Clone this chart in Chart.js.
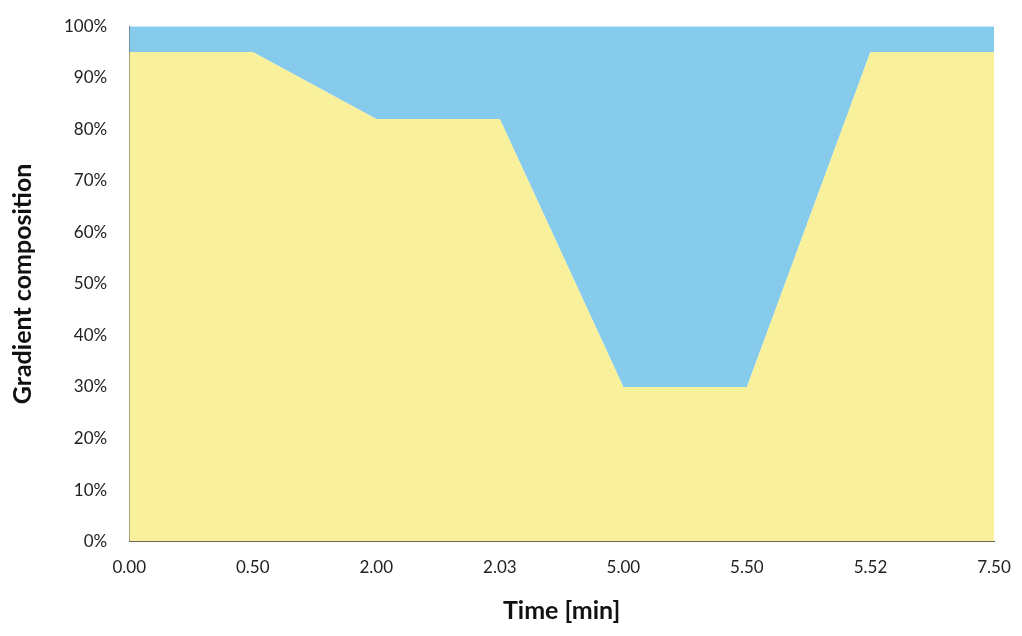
<!DOCTYPE html>
<html><head><meta charset="utf-8">
<script src="https://cdn.jsdelivr.net/npm/chart.js@4/dist/chart.umd.min.js"></script>
<style>html,body{margin:0;padding:0;background:#fff}#w{width:1022px;height:636px}</style>
</head><body><div id="w"><canvas id="c"></canvas></div>
<script>
const times = ["0.00","0.50","2.00","2.03","5.00","5.50","5.52","7.50"];
const solventA = [95,95,82,82,30,30,95,95];
const solventB = [5,5,18,18,70,70,5,5];
const yTicks = [0,10,20,30,40,50,60,70,80,90,100];
Chart.defaults.font.family = "Lato, 'Noto Sans', sans-serif";
new Chart(document.getElementById('c'), {
  type: 'line',
  data: { labels: times, datasets: [
    {data: solventA, backgroundColor:'#F8F09A', borderWidth:0, pointRadius:0, fill:'origin', tension:0},
    {data: solventB, backgroundColor:'#86CBEB', borderWidth:0, pointRadius:0, fill:'-1', tension:0}
  ]},
  options: {
    responsive:true, maintainAspectRatio:false, animation:false,
    layout:{padding:{top:6,right:28,left:4,bottom:6}},
    plugins:{legend:{display:false}, tooltip:{enabled:false}},
    scales:{
      x:{offset:false, grid:{display:false, drawTicks:true, tickLength:6}, border:{display:true,color:'#555'},
         ticks:{color:'#222', font:{size:17}, padding:10, maxRotation:0},
         title:{display:true, text:'Time [min]', color:'#111', font:{size:25, weight:'bold'}, padding:{top:8}}},
      y:{stacked:true, min:0, max:100, afterBuildTicks:a=>{a.ticks=yTicks.map(v=>({value:v}));},
         grid:{display:false, tickLength:6}, border:{display:true,color:'#555'},
         ticks:{color:'#222', font:{size:17}, padding:16, callback:v=>v+'%'},
         title:{display:true, text:'Gradient composition', color:'#111', font:{size:25, weight:'bold'}, padding:{bottom:10}}}
    }
  }
});
</script></body></html>
